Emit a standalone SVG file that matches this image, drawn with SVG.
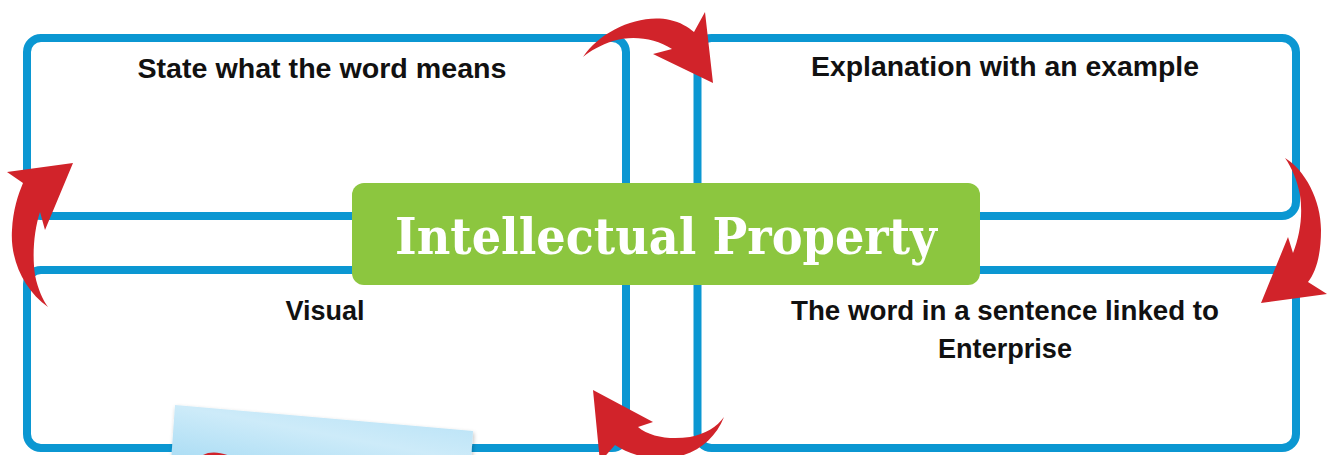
<svg xmlns="http://www.w3.org/2000/svg" width="1332" height="455" viewBox="0 0 1332 455">
  <defs>
    <style>
      .box { fill: none; stroke: #0b97d2; stroke-width: 8; }
      .lbl { font-family: "Liberation Sans", Arial, sans-serif; font-weight: bold; font-size: 27px; fill: #111111; text-anchor: middle; }
      .title { font-family: "DejaVu Serif", "Liberation Serif", serif; font-weight: bold; font-size: 51px; fill: #ffffff; text-anchor: middle; }
      .arrow { fill: #d1232a; }
    </style>
    <linearGradient id="noteGrad" x1="0" y1="1" x2="1" y2="0">
      <stop offset="0" stop-color="#a9dcf4"/>
      <stop offset="0.5" stop-color="#cdebf9"/>
      <stop offset="1" stop-color="#b3e0f6"/>
    </linearGradient>
    <filter id="shadow" x="-10%" y="-10%" width="120%" height="130%">
      <feGaussianBlur in="SourceAlpha" stdDeviation="2"/>
      <feOffset dx="1" dy="2" result="b"/>
      <feComponentTransfer><feFuncA type="linear" slope="0.25"/></feComponentTransfer>
      <feMerge><feMergeNode/><feMergeNode in="SourceGraphic"/></feMerge>
    </filter>
  </defs>

  <g id="box-top-left">
    <rect class="box" x="27" y="38" width="599" height="178" rx="14"/>
    <text class="lbl" x="322" y="78" textLength="369" lengthAdjust="spacingAndGlyphs">State what the word means</text>
  </g>
  <g id="box-top-right">
    <rect class="box" x="697.5" y="38" width="598.5" height="178" rx="14"/>
    <text class="lbl" x="1005" y="76" textLength="388" lengthAdjust="spacingAndGlyphs">Explanation with an example</text>
  </g>
  <g id="box-bottom-left">
    <rect class="box" x="27" y="270" width="599" height="178" rx="14"/>
    <text class="lbl" x="325" y="320">Visual</text>
  </g>
  <g id="box-bottom-right">
    <rect class="box" x="697.5" y="270" width="598.5" height="178" rx="14"/>
    <text class="lbl" x="1005" y="320" textLength="428" lengthAdjust="spacingAndGlyphs">The word in a sentence linked to</text>
    <text class="lbl" x="1005" y="358" textLength="134" lengthAdjust="spacingAndGlyphs">Enterprise</text>
  </g>

  <g id="note">
    <polygon points="175,405 473,431 471,462 171,462" fill="url(#noteGrad)" filter="url(#shadow)"/>
    <path class="arrow" d="M 203 455 C 210 451, 222 452, 232 457 L 203 458 Z"/>
  </g>

  <g id="center-title">
    <rect x="352" y="183" width="628" height="102" rx="12" fill="#8cc63f"/>
    <text class="title" x="666" y="254" textLength="542" lengthAdjust="spacingAndGlyphs">Intellectual Property</text>
  </g>

  <g id="connectors">
    <path class="arrow" d="M 583 57 C 600 31, 640 13, 670 20 C 680 22, 688 27, 694 32 L 705 12 L 713 83 L 653 54 L 672 49 C 655 38, 632 35, 613 41 C 601 45, 590 51, 583 57 Z"/>
    <path class="arrow" d="M 1285 158 C 1305 170, 1321 200, 1321 230 C 1321 255, 1316 272, 1308 282 L 1327 294 L 1261 303 L 1288 237 L 1293 253 C 1300 235, 1303 215, 1300 195 C 1297 180, 1292 168, 1285 158 Z"/>
    <path class="arrow" d="M 724 417 C 715 440, 695 455, 670 458 C 650 460, 630 455, 615 445 L 600 462 L 593 390 L 653 422 L 638 427 C 650 437, 670 440, 690 437 C 705 434, 717 427, 724 417 Z"/>
    <path class="arrow" d="M 48 307 C 24 290, 10 260, 12 230 C 13 210, 18 195, 23 183 L 7 172 L 73 163 L 45 230 L 40 212 C 34 230, 32 255, 35 275 C 38 290, 43 300, 48 307 Z"/>
  </g>
</svg>
